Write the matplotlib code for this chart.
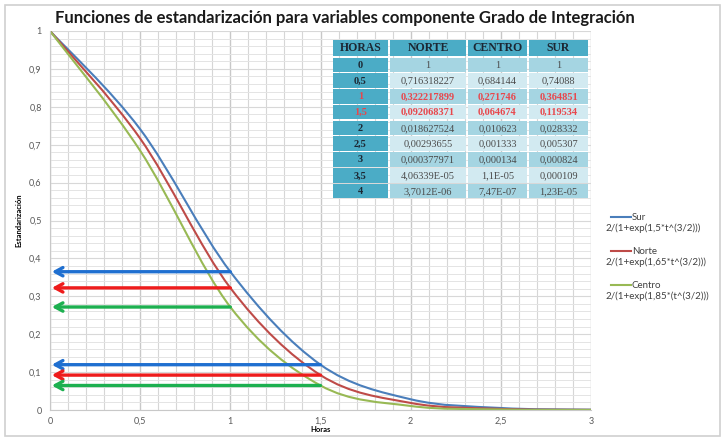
import numpy as np
import matplotlib
matplotlib.use('Agg')
import matplotlib.pyplot as plt
from matplotlib.lines import Line2D
from matplotlib.patches import Rectangle, PathPatch
from matplotlib.path import Path

# table shown on the chart (Excel general format, decimal comma)
table_header = ['HORAS', 'NORTE', 'CENTRO', 'SUR']
table_horas = ['0', '0,5', '1', '1,5', '2', '2,5', '3', '3,5', '4']
table_norte = ['1', '0,716318227', '0,322217899', '0,092068371', '0,018627524',
               '0,00293655', '0,000377971', '4,06339E-05', '3,7012E-06']
table_centro = ['1', '0,684144', '0,271746', '0,064674', '0,010623',
                '0,001333', '0,000134', '1,1E-05', '7,47E-07']
table_sur = ['1', '0,74088', '0,364851', '0,119534', '0,028332',
             '0,005307', '0,000824', '0,000109', '1,23E-05']
red_rows = [2, 3]

series_names = ['Sur', 'Norte', 'Centro']
series_formulas = ['2/(1+exp(1,5*t^(3/2)))', '2/(1+exp(1,65*t^(3/2)))', '2/(1+exp(1,85*(t^(3/2)))']

# arrows from the curve back to the y axis at 1 h and 1,5 h
arrow_x = [1, 1, 1, 1.5, 1.5, 1.5]
arrow_y = [0.364851, 0.322217899, 0.271746, 0.119534, 0.092068371, 0.064674]


def num(s):
    return float(s.replace(',', '.'))


horas = [num(s) for s in table_horas]
sur = [num(s) for s in table_sur]
norte = [num(s) for s in table_norte]
centro = [num(s) for s in table_centro]

W, H = 722, 437
fig = plt.figure(figsize=(W / 100, H / 100), dpi=100)
fig.patch.set_facecolor('white')

# outer chart border
fig.patches.append(Rectangle((5 / W, 1 - 436 / H), 715 / W, 431 / H,
                             transform=fig.transFigure, fill=False, ec='#d0d0d0', lw=1.2))

ax = fig.add_axes([50 / W, 1 - 410 / H, 541 / W, 379 / H])
ax.set_xlim(0, 3)
ax.set_ylim(0, 1)
ax.set_xticks(np.arange(0, 3.01, 0.5))
ax.set_xticks(np.arange(0, 3.01, 0.1), minor=True)
ax.set_yticks(np.arange(0, 1.01, 0.1))
ax.set_yticks(np.arange(0, 1.001, 0.02), minor=True)
ax.set_xticklabels(['0', '0,5', '1', '1,5', '2', '2,5', '3'])
ax.set_yticklabels(['0'] + ['0,%d' % i for i in range(1, 10)] + ['1'])
ax.grid(which='major', axis='x', color='#c8c8c8', lw=1.0)
ax.grid(which='minor', axis='x', color='#d6d6d6', lw=0.8)
ax.grid(which='major', axis='y', color='#d8d8d8', lw=0.8)
ax.grid(which='minor', axis='y', color='#e4e4e4', lw=0.7)
ax.set_axisbelow(True)
ax.tick_params(which='both', length=0, labelsize=6.5, labelcolor='#595959', pad=6)
ax.tick_params(axis='x', which='both', pad=5)
for lab in ax.get_xticklabels() + ax.get_yticklabels():
    lab.set_family('Lato')
for s in ['top', 'right']:
    ax.spines[s].set_visible(False)
ax.spines['left'].set_color('#c8c8c8')
ax.spines['bottom'].set_color('#c8c8c8')


def smooth_path(xs, ys):
    # Excel "smoothed line": cubic Bezier through every point
    p = np.column_stack([xs, ys])
    n = len(p)
    verts = [p[0]]
    codes = [Path.MOVETO]
    for i in range(n - 1):
        p0 = p[max(i - 1, 0)]
        p3 = p[min(i + 2, n - 1)]
        c1 = p[i] + (p[i + 1] - p0) / 6
        c2 = p[i + 1] - (p3 - p[i]) / 6
        verts += [c1, c2, p[i + 1]]
        codes += [Path.CURVE4] * 3
    return Path(verts, codes)


curve_colors = ['#4a7ebb', '#be4b48', '#98b954']
for vals, c in zip([sur, norte, centro], curve_colors):
    ax.add_patch(PathPatch(smooth_path(horas, vals), fill=False, ec=c, lw=1.5,
                           clip_on=True))

arrow_colors = ['#1f6fd0', '#ee1c1c', '#1db050'] * 2
for x0, y0, c in zip(arrow_x, arrow_y, arrow_colors):
    ax.annotate('', xy=(0.01, y0), xytext=(x0, y0),
                arrowprops=dict(arrowstyle='->,head_length=0.55,head_width=0.3',
                                color=c, lw=2.4, shrinkA=0, shrinkB=0))

ax.set_xlabel('Horas', fontsize=5.5, fontweight='bold', family='Lato', va='top')
ax.xaxis.set_label_coords(0.5, -0.042)
ax.set_ylabel('Estandarización', fontsize=5.5, fontweight='bold', family='Lato', labelpad=5)

fig.text(345 / W, 1 - 18 / H,
         'Funciones de estandarización para variables componente Grado de Integración',
         ha='center', va='center', fontsize=12, fontweight='bold', family='Lato', color='#1a1a1a')

# legend (line, name, formula on a second line)
leg_y = [217, 251, 285]
for name, formula, c, y in zip(series_names, series_formulas, curve_colors, leg_y):
    fig.add_artist(Line2D([611 / W, 631 / W], [1 - y / H, 1 - y / H], color=c, lw=1.5,
                          transform=fig.transFigure))
    fig.text(632 / W, 1 - y / H, name, ha='left', va='center', fontsize=7,
             family='Lato', color='#404040')
    fig.text(605 / W, 1 - (y + 11) / H, formula, ha='left', va='center', fontsize=7,
             family='Lato', color='#404040')

# table
col_edges = [(333, 388), (390, 466), (468, 527), (529, 588)]
row_tops = [40, 57.5, 73.3, 89.1, 104.9, 120.7, 136.5, 152.3, 168.1, 183.9]
row_h = 14.4
teal = '#4bacc6'
mid_blue = '#a5d5e2'
light_blue = '#d2eaf1'
serif = 'Liberation Serif'


def cell(col, row, color, text, tcolor, bold, size):
    x0, x1 = col_edges[col]
    y0 = row_tops[row]
    hh = row_h + (1.5 if row == 0 else 0)
    fig.patches.append(Rectangle((x0 / W, 1 - (y0 + hh) / H), (x1 - x0) / W, hh / H,
                                 transform=fig.transFigure, fc=color, ec='none', zorder=5))
    fig.text((x0 + x1) / 2 / W, 1 - (y0 + hh / 2 + 0.5) / H, text, ha='center', va='center',
             fontsize=size, family=serif, fontweight='bold' if bold else 'normal',
             color=tcolor, zorder=6)


for j, h in enumerate(table_header):
    cell(j, 0, teal, h, '#1c2733', True, 8.5)

for i in range(len(table_horas)):
    red = i in red_rows
    bg = mid_blue if i % 2 == 0 else light_blue
    cell(0, i + 1, teal, table_horas[i], '#e8474c' if red else '#1c2733', True, 7.5)
    for j, col in enumerate([table_norte, table_centro, table_sur]):
        cell(j + 1, i + 1, bg, col[i], '#e8474c' if red else '#4a4a4a', red, 7.5)

fig.savefig('out.png', dpi=100)
